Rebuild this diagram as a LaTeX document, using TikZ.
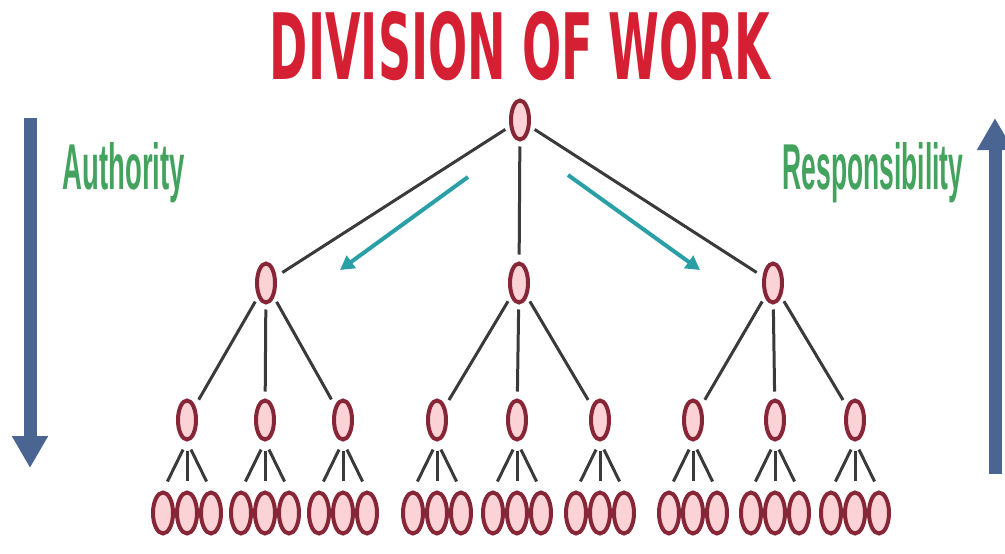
\documentclass[tikz,border=0pt]{standalone}
\usepackage{fontspec}
\setmainfont{DejaVu Sans}
\newfontfamily\labelfont{Liberation Sans}
\usetikzlibrary{shapes.geometric,arrows.meta}
\definecolor{ovalline}{HTML}{862636}
\definecolor{ovalfill}{HTML}{FBD3D7}
\definecolor{titlered}{HTML}{D42032}
\definecolor{labelgreen}{HTML}{43A35E}
\definecolor{bigarrowcol}{HTML}{4A6591}
\definecolor{cyanarrow}{HTML}{2B9FA6}
\definecolor{linkgray}{HTML}{3A3A3A}
\begin{document}
\begin{tikzpicture}[x=1pt,y=-1pt,
  oval/.style={ellipse,draw=ovalline,fill=ovalfill,line width=4pt,minimum width=18pt,minimum height=39pt,inner sep=0pt},
  leaf/.style={oval,minimum width=20pt,minimum height=41pt},
  link/.style={draw=linkgray,line width=3pt,shorten <=5pt,shorten >=7pt},
  sublink/.style={draw=linkgray,line width=3pt,shorten <=9pt,shorten >=10pt},
  flow/.style={draw=cyanarrow,line width=4pt,-{Triangle[length=14pt,width=15pt]}},
  bigarrow/.style={draw=bigarrowcol,line width=13pt,-{Triangle[length=32pt,width=34pt]}},
  sidelabel/.style={text=labelgreen,inner sep=0pt}]
\fill[white] (0,0) rectangle (1005,554);
\useasboundingbox (0,0) rectangle (1005,554);

% title
\node[text=titlered,inner sep=0pt] (title) at (520,46) {\resizebox{500pt}{68pt}{\bfseries DIVISION OF WORK}};

% side labels
\node[sidelabel] (auth) at (124,173) {\resizebox{122pt}{47pt}{\labelfont\bfseries Authority}};
\node[sidelabel] (resp) at (873,173) {\resizebox{181pt}{47pt}{\labelfont\bfseries Responsibility}};

% big side arrows
\coordinate (la) at (30,118);
\coordinate (lb) at (30,468);
\coordinate (ra) at (995,474);
\coordinate (rb) at (995,118);
\draw[bigarrow] (la) -- (lb);
\draw[bigarrow] (ra) -- (rb);

% tree nodes
\node[oval] (t) at (520,120) {};
\node[oval] (a) at (266,283) {};
\node[oval] (b) at (519,283) {};
\node[oval] (c) at (773,283) {};
\foreach \n/\x in {a1/187,a2/265,a3/343,b1/437,b2/517,b3/600,c1/693,c2/775,c3/855}{
  \node[oval] (\n) at (\x,420) {};
  \node[leaf] (\n l) at (\x-24,513) {};
  \node[leaf] (\n m) at (\x,513) {};
  \node[leaf] (\n r) at (\x+24,513) {};
  \draw[sublink] (\n.south) -- (\n l.north);
  \draw[sublink] (\n.south) -- (\n m.north);
  \draw[sublink] (\n.south) -- (\n r.north);
}

% links
\draw[link] (t) -- (a);
\draw[link] (t) -- (b);
\draw[link] (t) -- (c);
\foreach \p in {a,b,c}{
  \draw[link] (\p) -- (\p1);
  \draw[link] (\p) -- (\p2);
  \draw[link] (\p) -- (\p3);
}

% cyan arrows
\coordinate (fl1) at (468,177);
\coordinate (fl2) at (340,270);
\coordinate (fr1) at (568,175);
\coordinate (fr2) at (700,270);
\draw[flow] (fl1) -- (fl2);
\draw[flow] (fr1) -- (fr2);
\end{tikzpicture}
\end{document}
